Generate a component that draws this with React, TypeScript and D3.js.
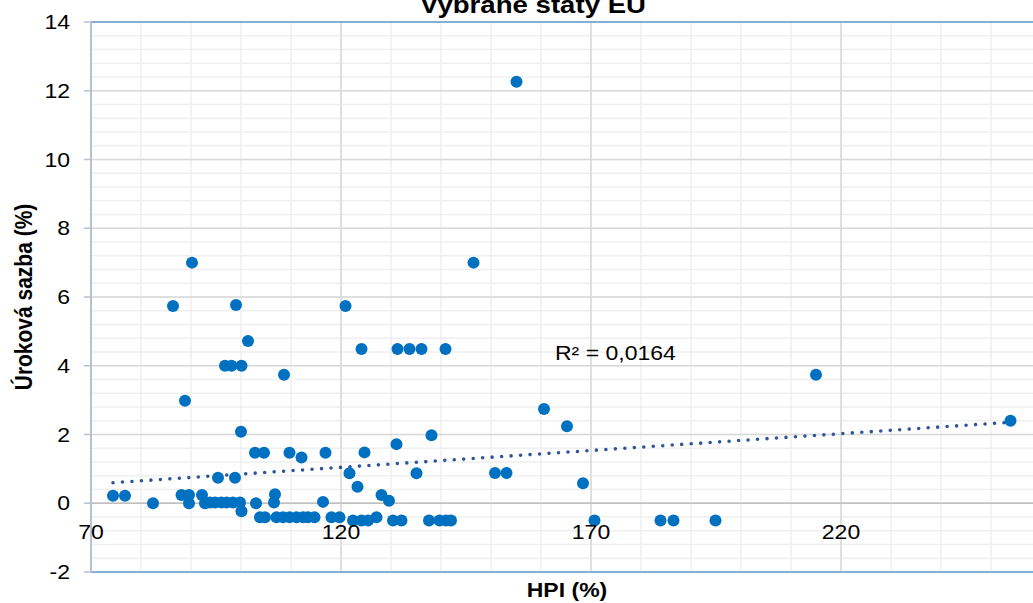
import React from "react";
import * as d3 from "d3";

const hpi: number[] = [
  74.4, 76.8, 82.4, 86.4, 90.2, 88.8, 88.1, 89.6, 89.6, 92.2, 92.8, 93.8, 94.8, 96.1, 97.1, 98.4, 99.8,
  100.1, 95.4, 98.8, 96.8, 98.1, 100.1, 99.0, 100.0, 101.4, 102.8, 104.6, 108.6, 103.0, 106.8, 106.6,
  109.7, 112.1, 116.9, 116.4,
  103.8, 104.8, 107.1, 108.4, 109.7, 111.1, 112.4, 113.4, 114.7, 118.1, 119.7,
  120.9, 121.7, 123.3, 124.1, 124.7, 128.1, 129.6, 131.1, 131.3, 133.7, 136.1, 135.1, 138.1, 140.9,
  122.4, 124.1, 125.4, 127.1, 130.4, 132.1, 137.6, 139.7, 141.0, 142.0,
  146.5, 150.8, 153.1, 155.1, 160.6, 165.2, 168.4, 170.7, 183.9, 186.5, 194.9, 215.0, 253.9,
];
const rate: number[] = [
  0.22, 0.22, 0.0, 5.74, 7.0, 2.98, 0.24, 0.24, 0.0, 0.24, 0.0, 0.02, 0.02, 0.02, 0.02, 0.02, 0.02,
  -0.23, 0.74, 0.74, 4.0, 4.0, 4.0, 5.77, 2.08, 4.72, 1.47, 1.47, 3.74, 0.0, 0.26, 0.02,
  1.47, 1.33, 1.47, 0.04,
  -0.41, -0.41, -0.41, -0.41, -0.41, -0.41, -0.41, -0.41, -0.41, -0.41, -0.41,
  5.74, 0.87, 0.48, 4.49, 1.48, 0.24, 0.07, 1.72, 4.49, 4.49, 4.49, 0.87, 1.98, 4.49,
  -0.5, -0.5, -0.5, -0.41, -0.5, -0.5, -0.5, -0.5, -0.5, -0.5,
  7.0, 0.88, 0.88, 12.26, 2.74, 2.24, 0.58, -0.5, -0.5, -0.5, -0.5, 3.74, 2.4,
];

const xTicks: number[] = [70, 120, 170, 220];
const yTicks: number[] = [-2, 0, 2, 4, 6, 8, 10, 12, 14];
const trendSlope = 0.009795;
const trendIntercept = -0.131;
const rSquaredLabel = "R² = 0,0164";
const chartTitle = "Vybrané státy EU";
const xTitle = "HPI (%)";
const yTitle = "Úroková sazba (%)";

const FONT = "'Liberation Sans', Arial, sans-serif";
const SX = 1.15;

export default function App() {
  const W = 1033;
  const H = 603;
  const x = d3.scaleLinear().domain([70, 260]).range([91, 1041]);
  const y = d3.scaleLinear().domain([-2, 14]).range([572, 22]);

  const xMinor = d3.range(70, 261, 10);
  const yMinor = d3.range(0, 41).map((i) => -2 + i * 0.4);
  const pts = hpi.map((h, i) => [h, rate[i]] as [number, number]);
  const xMin = d3.min(hpi) as number;
  const xMax = d3.max(hpi) as number;
  const line = d3
    .line<number>()
    .x((d) => x(d))
    .y((d) => y(trendIntercept + trendSlope * d));

  return (
    <svg
      width={W}
      height={H}
      style={{ position: "absolute", left: 0, top: 0, background: "#fff" }}
      fontFamily={FONT}
    >
      <rect x={0} y={0} width={W} height={H} fill="#fff" />
      {/* minor grid */}
      {xMinor.map((v) => (
        <line key={"xm" + v} x1={x(v)} x2={x(v)} y1={y(14)} y2={y(-2)} stroke="#EFEFEF" strokeWidth={1.5} />
      ))}
      {yMinor.map((v, i) => (
        <line key={"ym" + i} x1={x(70)} x2={x(260)} y1={y(v)} y2={y(v)} stroke="#EFEFEF" strokeWidth={1.5} />
      ))}
      {/* major grid */}
      {xTicks.map((v) => (
        <line key={"xM" + v} x1={x(v)} x2={x(v)} y1={y(14)} y2={y(-2)} stroke="#D9D9D9" strokeWidth={1.5} />
      ))}
      {yTicks.map((v) => (
        <line key={"yM" + v} x1={x(70)} x2={x(260)} y1={y(v)} y2={y(v)} stroke="#D9D9D9" strokeWidth={1.5} />
      ))}
      {/* x axis at 0 */}
      <line x1={x(70)} x2={x(260)} y1={y(0)} y2={y(0)} stroke="#BFBFBF" strokeWidth={1.5} />
      {/* plot border */}
      <rect x={x(70)} y={y(14)} width={x(260) - x(70)} height={y(-2) - y(14)} fill="none" stroke="#6A9FD8" strokeWidth={1.5} />
      {/* y axis line and ticks */}
      <line x1={x(70)} x2={x(70)} y1={y(14)} y2={y(-2)} stroke="#B8C2CF" strokeWidth={2} />
      {yTicks.map((v) => (
        <line key={"yt" + v} x1={x(70) - 7} x2={x(70)} y1={y(v)} y2={y(v)} stroke="#B8C2CF" strokeWidth={1.5} />
      ))}
      {/* trendline */}
      <path
        d={line([xMin, xMax]) || ""}
        fill="none"
        stroke="#2E5597"
        strokeWidth={3.6}
        strokeLinecap="round"
        strokeDasharray="0 9.5"
      />
      {/* points */}
      {pts.map((p, i) => (
        <circle key={"p" + i} cx={x(p[0])} cy={y(p[1])} r={6} fill="#0070C0" />
      ))}
      {/* y tick labels */}
      {yTicks.map((v) => (
        <text
          key={"yl" + v}
          transform={`translate(70,${y(v) + 7}) scale(${SX},1)`}
          textAnchor="end"
          fontSize={20}
          fill="#000"
        >
          {v}
        </text>
      ))}
      {/* x tick labels */}
      {xTicks.map((v) => (
        <text
          key={"xl" + v}
          transform={`translate(${x(v)},${y(0) + 36}) scale(${SX},1)`}
          textAnchor="middle"
          fontSize={20}
          fill="#000"
        >
          {v}
        </text>
      ))}
      {/* R squared */}
      <text transform={`translate(555,360) scale(${SX},1)`} fontSize={20} fill="#000">
        {rSquaredLabel}
      </text>
      {/* titles */}
      <text transform={`translate(533,13) scale(${SX},1)`} textAnchor="middle" fontSize={24} fontWeight="bold" fill="#000">
        {chartTitle}
      </text>
      <text transform={`translate(567,597) scale(${SX},1)`} textAnchor="middle" fontSize={20} fontWeight="bold" fill="#000">
        {xTitle}
      </text>
      <text
        transform={`translate(32,297) scale(${SX},1) rotate(-90)`}
        textAnchor="middle"
        fontSize={21}
        fontWeight="bold"
        fill="#000"
      >
        {yTitle}
      </text>
    </svg>
  );
}
